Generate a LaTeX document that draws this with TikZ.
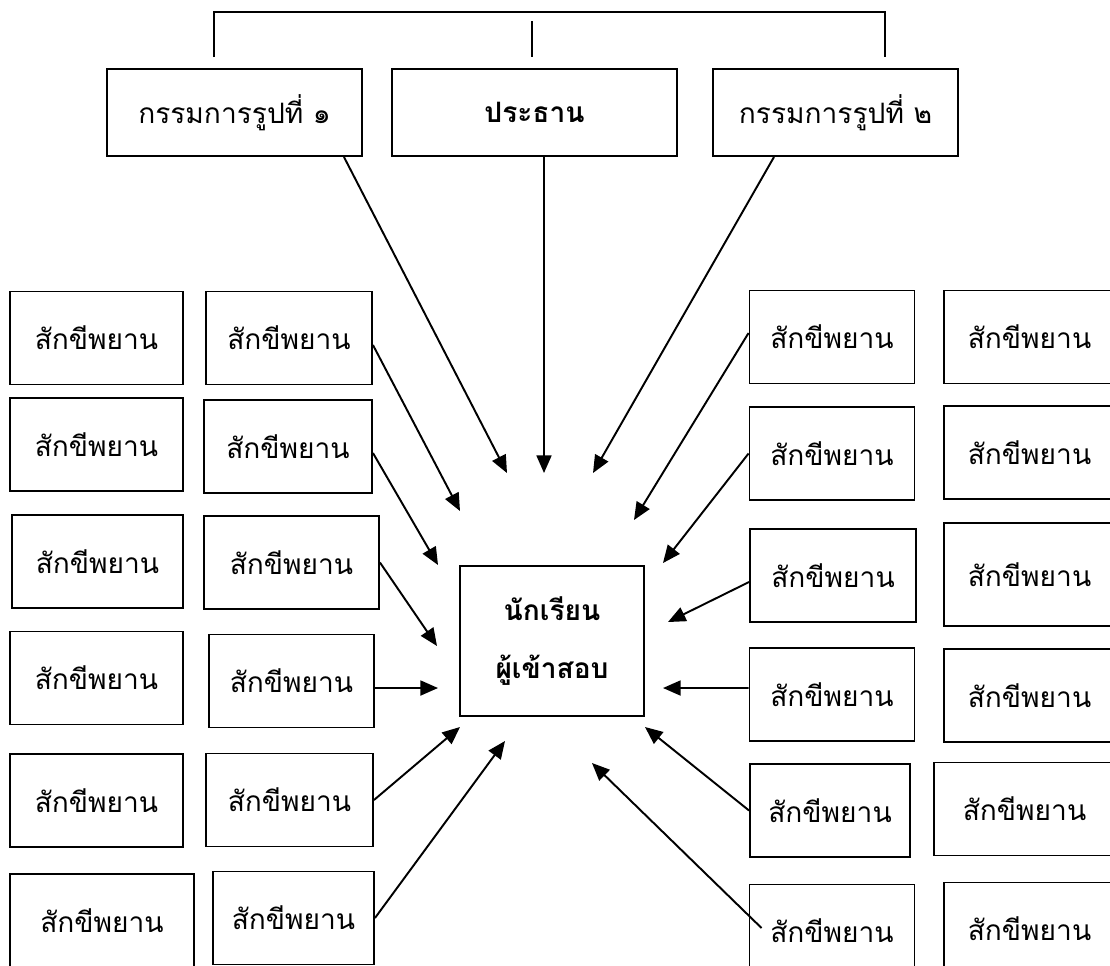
\documentclass[tikz,border=0pt]{standalone}
\usepackage{fontspec}
\newfontfamily\thaifont[Script=Thai]{Loma}
\usetikzlibrary{arrows.meta}

\begin{document}
\begin{tikzpicture}[
        line width=1.1pt,
        font=\thaifont\fontsize{16}{20}\selectfont,
        >={Triangle[length=10pt,width=8.5pt]}
    ]
    \tikzset{
        witness/.style = {rectangle, draw=black, line width=1.1pt, align=center, minimum width=#1, minimum height=1.86cm},
        headbox/.style = {rectangle, draw=black, line width=1.1pt, align=center, minimum width=#1, minimum height=1.74cm},
        pupilbox/.style = {rectangle, draw=black, line width=1.1pt, align=center, minimum width=3.68cm, minimum height=3.00cm,
            font=\thaifont\bfseries\fontsize{16}{33}\selectfont},
    }
    \clip (0,0) rectangle (22.2,-19.3);
    % committee
    \node[headbox=5.10cm] at (4.69,-2.25) (K1) {กรรมการรูปที่ ๑};
    \node[headbox=5.70cm] at (10.69,-2.25) (P) {\bfseries ประธาน};
    \node[headbox=4.90cm] at (16.71,-2.25) (K2) {กรรมการรูปที่ ๒};
    \draw[line width=0.9pt] (4.28,-1.14) -- (4.28,-0.24) -- (17.70,-0.24) -- (17.70,-1.14);
    \draw[line width=0.9pt] (10.64,-0.42) -- (10.64,-1.14);
    % student
    \node[pupilbox] at (11.04,-12.82) (N) {นักเรียน\\ผู้เข้าสอบ};
    % witnesses, left
    \node[witness=3.46cm] at (1.93,-6.76) (A1) {สักขีพยาน};
    \node[witness=3.46cm] at (1.93,-8.89) (A2) {สักขีพยาน};
    \node[witness=3.42cm] at (1.95,-11.23) (A3) {สักขีพยาน};
    \node[witness=3.46cm] at (1.93,-13.56) (A4) {สักขีพยาน};
    \node[witness=3.46cm] at (1.93,-16.01) (A5) {สักขีพยาน};
    \node[witness=3.68cm] at (2.04,-18.41) (A6) {สักขีพยาน};
    \node[witness=3.32cm] at (5.78,-6.76) (B1) {สักขีพยาน};
    \node[witness=3.36cm] at (5.76,-8.93) (B2) {สักขีพยาน};
    \node[witness=3.50cm] at (5.83,-11.25) (B3) {สักขีพยาน};
    \node[witness=3.30cm] at (5.83,-13.62) (B4) {สักขีพยาน};
    \node[witness=3.34cm] at (5.79,-16.00) (B5) {สักขีพยาน};
    \node[witness=3.22cm] at (5.87,-18.36) (B6) {สักขีพยาน};
    % witnesses, right
    \node[witness=3.30cm] at (16.64,-6.74) (C1) {สักขีพยาน};
    \node[witness=3.30cm] at (16.64,-9.07) (C2) {สักขีพยาน};
    \node[witness=3.32cm] at (16.66,-11.51) (C3) {สักขีพยาน};
    \node[witness=3.30cm] at (16.64,-13.89) (C4) {สักขีพยาน};
    \node[witness=3.20cm] at (16.60,-16.21) (C5) {สักขีพยาน};
    \node[witness=3.30cm] at (16.64,-18.62) (C6) {สักขีพยาน};
    \node[witness=3.42cm] at (20.59,-6.74) (D1) {สักขีพยาน};
    \node[witness=3.42cm] at (20.59,-9.05) (D2) {สักขีพยาน};
    \node[witness=3.42cm, minimum height=2.06cm] at (20.59,-11.49) (D3) {สักขีพยาน};
    \node[witness=3.42cm] at (20.59,-13.91) (D4) {สักขีพยาน};
    \node[witness=3.62cm] at (20.49,-16.18) (D5) {สักขีพยาน};
    \node[witness=3.42cm] at (20.59,-18.58) (D6) {สักขีพยาน};
    % arrow tips
    \coordinate (tK1) at (10.14,-9.46);
    \coordinate (tP) at (10.88,-9.46);
    \coordinate (tK2) at (11.86,-9.46);
    \coordinate (tB1) at (9.20,-10.22);
    \coordinate (tB2) at (8.76,-11.30);
    \coordinate (tB3) at (8.74,-12.92);
    \coordinate (tB4) at (8.76,-13.76);
    \coordinate (tB5) at (9.20,-14.54);
    \coordinate (tB6) at (10.10,-14.82);
    \coordinate (tC1) at (12.68,-10.40);
    \coordinate (tC2) at (13.26,-11.26);
    \coordinate (tC3) at (13.36,-12.44);
    \coordinate (tC4) at (13.26,-13.76);
    \coordinate (tC5) at (12.90,-14.54);
    \coordinate (tC6) at (11.84,-15.26);
    \draw[->] ([xshift=-0.38cm]K1.south east) -- (tK1);
    \draw[->] ([xshift=0.19cm]P.south) -- (tP);
    \draw[->] ([xshift=-1.23cm]K2.south) -- (tK2);
    \draw[->] ([yshift=-0.14cm]B1.east) -- (tB1);
    \draw[->] ([yshift=-0.13cm]B2.east) -- (tB2);
    \draw[->] (B3.east) -- (tB3);
    \draw[->] ([yshift=-0.14cm]B4.east) -- (tB4);
    \draw[->] (B5.east) -- (tB5);
    \draw[->] (B6.east) -- (tB6);
    \draw[->] ([yshift=0.08cm]C1.west) -- (tC1);
    \draw[->] (C2.west) -- (tC2);
    \draw[->] ([yshift=-0.13cm]C3.west) -- (tC3);
    \draw[->] ([yshift=0.13cm]C4.west) -- (tC4);
    \draw[->] (C5.west) -- (tC5);
    \draw[->] ([xshift=0.26cm,yshift=0.06cm]C6.west) -- (tC6);
\end{tikzpicture}
\end{document}
